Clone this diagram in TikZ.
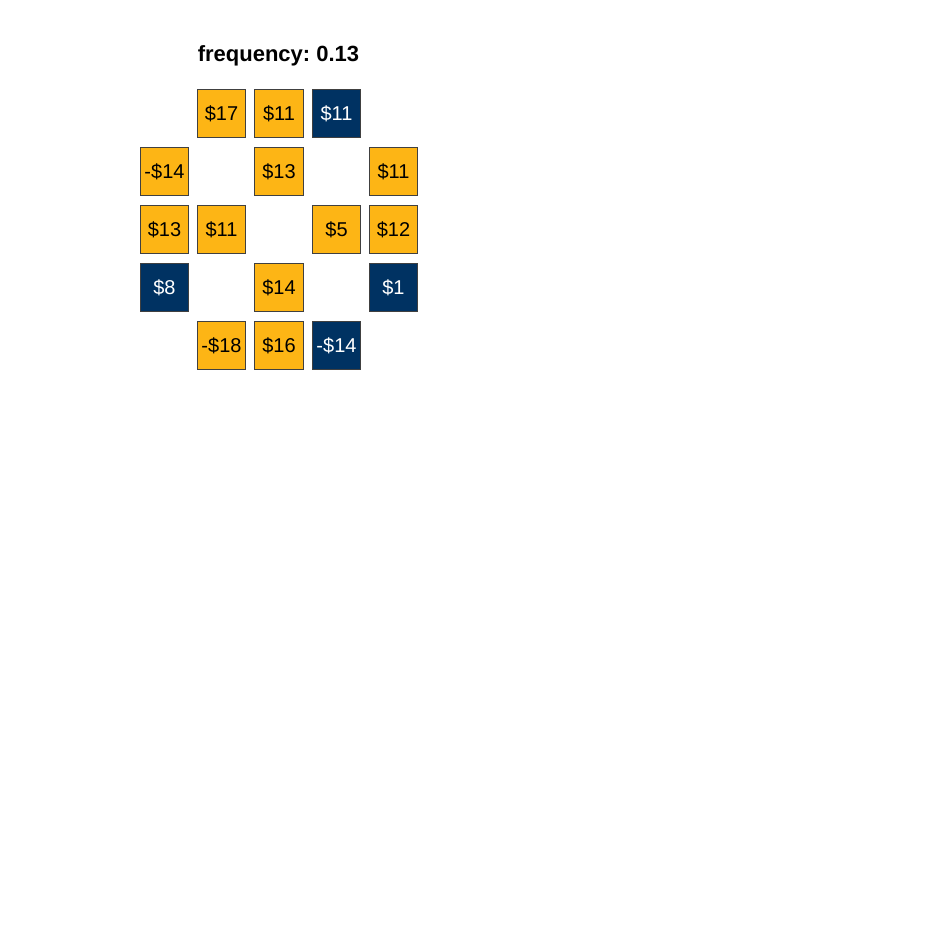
\documentclass[tikz,border=0pt]{standalone}
\usepackage{fontspec}
\setmainfont{Liberation Sans}
\usepackage{xcolor}
\usepackage{tikz}
\frenchspacing

\begin{document}
\begin{tikzpicture}[x=1pt,y=1pt,
  tile/.style={draw=black!75,line width=0.6pt,minimum width=48.5pt,minimum height=48.5pt,inner sep=0pt,font=\fontsize{20}{24}\selectfont},
  gold/.style={tile,fill=cgold,text=black},
  blue/.style={tile,fill=cblue,text=white}]
\definecolor{cgold}{RGB}{253,181,21}
\definecolor{cblue}{RGB}{0,50,98}
\useasboundingbox (0,0) rectangle (938,938);
\node[font=\bfseries\fontsize{22}{26}\selectfont] (title) at (278.5,882) {frequency: 0.13};
% row 1
\node[gold] (r1c2) at (221.5,824.5) {\$17};
\node[gold] (r1c3) at (279.0,824.5) {\$11};
\node[blue] (r1c4) at (336.5,824.5) {\$11};
% row 2
\node[gold] (r2c1) at (164.5,766.5) {-\$14};
\node[gold] (r2c3) at (279.0,766.5) {\$13};
\node[gold] (r2c5) at (393.5,766.5) {\$11};
% row 3
\node[gold] (r3c1) at (164.5,708.5) {\$13};
\node[gold] (r3c2) at (221.5,708.5) {\$11};
\node[gold] (r3c4) at (336.5,708.5) {\$5};
\node[gold] (r3c5) at (393.5,708.5) {\$12};
% row 4
\node[blue] (r4c1) at (164.5,650.5) {\$8};
\node[gold] (r4c3) at (279.0,650.5) {\$14};
\node[blue] (r4c5) at (393.5,650.5) {\$1};
% row 5
\node[gold] (r5c2) at (221.5,592.5) {-\$18};
\node[gold] (r5c3) at (279.0,592.5) {\$16};
\node[blue] (r5c4) at (336.5,592.5) {-\$14};
\end{tikzpicture}
\end{document}
